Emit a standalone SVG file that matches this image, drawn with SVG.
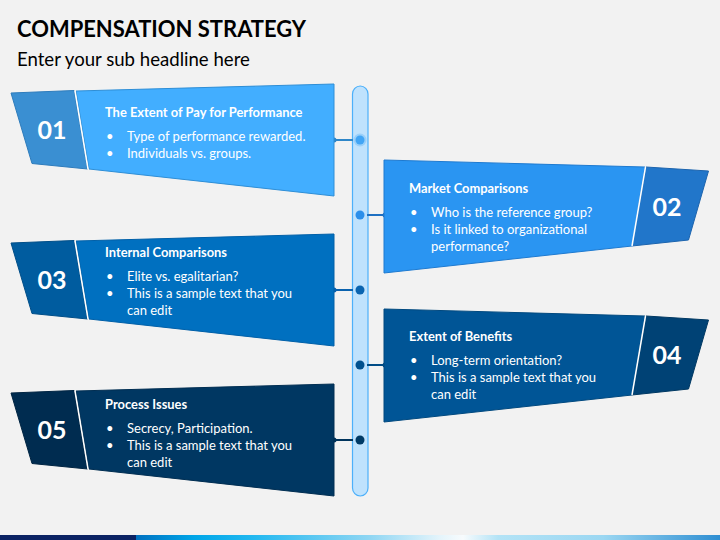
<svg xmlns="http://www.w3.org/2000/svg" width="720" height="540" viewBox="0 0 720 540">
<defs>
<linearGradient id="foot" x1="136" y1="0" x2="720" y2="0" gradientUnits="userSpaceOnUse">
<stop offset="0" stop-color="#0070C0"/>
<stop offset="0.1" stop-color="#00A6E8"/>
<stop offset="0.2" stop-color="#22B8F0"/>
<stop offset="0.4" stop-color="#8FD6F3"/>
<stop offset="0.52" stop-color="#E4F4FB"/>
<stop offset="0.56" stop-color="#F7FBFD"/>
<stop offset="0.62" stop-color="#B3E3F6"/>
<stop offset="0.8" stop-color="#9BD7F2"/>
<stop offset="1" stop-color="#2E8ED2"/>
</linearGradient>
</defs>
<style>
.title{font-family:"Lato","Liberation Sans",sans-serif;font-weight:bold;font-size:23.5px;fill:#000}
.sub{font-family:"Lato","Liberation Sans",sans-serif;font-size:18.6px;fill:#000}
.hd{font-family:"Lato","Liberation Sans",sans-serif;font-weight:bold;font-size:12.9px;fill:#fff}
.tx{font-family:"Lato","Liberation Sans",sans-serif;font-size:13px;fill:#fff}
.num{font-family:"Lato","Liberation Sans",sans-serif;font-weight:bold;font-size:25px;fill:#fff;text-anchor:middle}
.sep{stroke:#fff;stroke-width:1.5}
</style>
<rect width="720" height="540" fill="#F2F2F2"/>
<text class="title" x="17" y="37" textLength="289" lengthAdjust="spacingAndGlyphs">COMPENSATION STRATEGY</text>
<text class="sub" x="17" y="66">Enter your sub headline here</text>

<rect x="352.5" y="86" width="15.5" height="410" rx="8" fill="#BFE2FD" stroke="#4CB0FA" stroke-width="1.2"/>

<g id="connectors">
<line x1="334" y1="140" x2="353" y2="140" stroke="#2E86C8" stroke-width="2"/>
<circle cx="334" cy="140" r="2.5" fill="#2E86C8"/>
<circle cx="360" cy="140" r="6.5" fill="#42A5F5" opacity="0.3"/>
<circle cx="360" cy="140" r="4.5" fill="#42A5F5"/>
<line x1="367" y1="215" x2="385" y2="215" stroke="#1E70C2" stroke-width="2"/>
<circle cx="385" cy="215" r="2.5" fill="#1E70C2"/>
<circle cx="360" cy="215" r="4.5" fill="#2C8FEA"/>
<line x1="334" y1="290" x2="353" y2="290" stroke="#0A62AE" stroke-width="2"/>
<circle cx="334" cy="290" r="2.5" fill="#0A62AE"/>
<circle cx="360" cy="290" r="4.5" fill="#0A64B0"/>
<line x1="367" y1="365" x2="385" y2="365" stroke="#004C86" stroke-width="2"/>
<circle cx="385" cy="365" r="2.5" fill="#004C86"/>
<circle cx="360" cy="365" r="4.5" fill="#00508E"/>
<line x1="334" y1="440" x2="353" y2="440" stroke="#00345C" stroke-width="2"/>
<circle cx="334" cy="440" r="2.5" fill="#00345C"/>
<circle cx="360" cy="440" r="4.5" fill="#003A66"/>
</g>

<g id="node01">
<polygon points="11,93 74,90.5 87.5,169 32,163.5" fill="#3A8FD2" stroke="#2E7CBC" stroke-width="1"/>
<polygon points="76,91 334,84 334,196 89,169" fill="#42AEFF" stroke="#2E8ED6" stroke-width="1"/>
<line class="sep" x1="75" y1="91" x2="88" y2="169"/>
<text class="num" x="52" y="139">01</text>
<text class="hd" x="105" y="117">The Extent of Pay for Performance</text>
<text class="tx" x="106" y="141">•</text><text class="tx" x="127" y="141">Type of performance rewarded.</text>
<text class="tx" x="106" y="158">•</text><text class="tx" x="127" y="158">Individuals vs. groups.</text>
</g>

<g id="node02">
<polygon points="646,167 708.5,171 688.5,240 632,246" fill="#2176CA" stroke="#1C64AE" stroke-width="1"/>
<polygon points="384,160 645,167 632,246 384,273" fill="#2A95F2" stroke="#1E7AD0" stroke-width="1"/>
<line class="sep" x1="645.5" y1="167" x2="632" y2="246"/>
<text class="num" x="667" y="216">02</text>
<text class="hd" x="409" y="193">Market Comparisons</text>
<text class="tx" x="410" y="217">•</text><text class="tx" x="431" y="217">Who is the reference group?</text>
<text class="tx" x="410" y="234">•</text><text class="tx" x="431" y="234">Is it linked to organizational</text>
<text class="tx" x="431" y="251">performance?</text>
</g>

<g id="node03">
<polygon points="11,243 74,240.5 87.5,319 32,313.5" fill="#005C9F" stroke="#004E88" stroke-width="1"/>
<polygon points="76,241 334,234 334,346 89,319" fill="#0070C0" stroke="#0060A8" stroke-width="1"/>
<line class="sep" x1="75" y1="241" x2="88" y2="319"/>
<text class="num" x="52" y="289">03</text>
<text class="hd" x="105" y="257">Internal Comparisons</text>
<text class="tx" x="106" y="281">•</text><text class="tx" x="127" y="281">Elite vs. egalitarian?</text>
<text class="tx" x="106" y="298">•</text><text class="tx" x="127" y="298">This is a sample text that you</text>
<text class="tx" x="127" y="315">can edit</text>
</g>

<g id="node04">
<polygon points="646,316 708.5,320 688.5,389 632,395" fill="#004275" stroke="#003862" stroke-width="1"/>
<polygon points="384,309 645,316 632,395 384,422" fill="#005596" stroke="#00497F" stroke-width="1"/>
<line class="sep" x1="645.5" y1="316" x2="632" y2="395"/>
<text class="num" x="667" y="364">04</text>
<text class="hd" x="409" y="341">Extent of Benefits</text>
<text class="tx" x="410" y="365">•</text><text class="tx" x="431" y="365">Long-term orientation?</text>
<text class="tx" x="410" y="382">•</text><text class="tx" x="431" y="382">This is a sample text that you</text>
<text class="tx" x="431" y="399">can edit</text>
</g>

<g id="node05">
<polygon points="11,393 74,390.5 87.5,469 32,463.5" fill="#002C50" stroke="#002442" stroke-width="1"/>
<polygon points="76,391 334,384 334,496 89,469" fill="#003762" stroke="#002E52" stroke-width="1"/>
<line class="sep" x1="75" y1="391" x2="88" y2="469"/>
<text class="num" x="52" y="439">05</text>
<text class="hd" x="105" y="409">Process Issues</text>
<text class="tx" x="106" y="433">•</text><text class="tx" x="127" y="433">Secrecy, Participation.</text>
<text class="tx" x="106" y="450">•</text><text class="tx" x="127" y="450">This is a sample text that you</text>
<text class="tx" x="127" y="467">can edit</text>
</g>

<rect x="0" y="535" width="137" height="5" fill="#0B2263"/>
<rect x="136" y="535" width="584" height="5" fill="url(#foot)"/>
</svg>
